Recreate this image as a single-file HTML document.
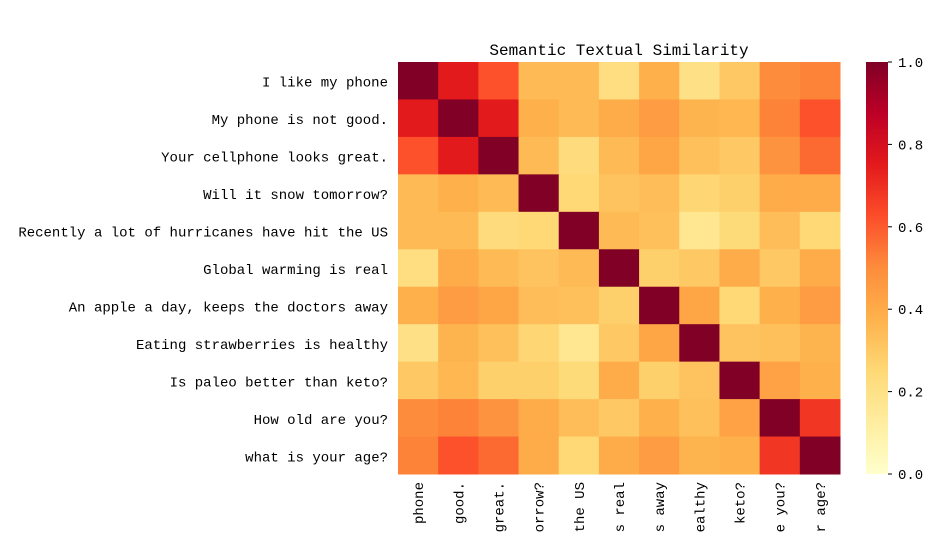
<!DOCTYPE html>
<html><head><meta charset="utf-8"><style>
html,body{margin:0;padding:0;background:#fff;overflow:hidden;width:950px;height:533px}
svg{display:block;overflow:hidden;font-family:"WenQuanYi Zen Hei","Liberation Mono",monospace}
</style></head><body>
<svg id="chart" width="950" height="533" viewBox="0 0 950 533" xmlns="http://www.w3.org/2000/svg">
<defs><clipPath id="frame"><rect x="0" y="0" width="950" height="533"/></clipPath></defs>
<text x="619" y="55" font-size="16" text-anchor="middle" fill="#000">Semantic Textual Similarity</text>
<g id="cells"></g>
<g id="ylabels"></g>
<g id="xlabels" clip-path="url(#frame)"></g>
<g id="cbar"></g>
</svg>
<script>
const labels = ["I like my phone","My phone is not good.","Your cellphone looks great.","Will it snow tomorrow?","Recently a lot of hurricanes have hit the US","Global warming is real","An apple a day, keeps the doctors away","Eating strawberries is healthy","Is paleo better than keto?","How old are you?","what is your age?"];
const row0 = [1,0.75,0.62,0.35,0.35,0.22,0.38,0.2,0.3,0.5,0.52];
const row1 = [0.75,1,0.75,0.38,0.35,0.4,0.45,0.37,0.36,0.52,0.62];
const row2 = [0.62,0.75,1,0.35,0.23,0.35,0.42,0.33,0.3,0.48,0.57];
const row3 = [0.35,0.38,0.35,1,0.25,0.32,0.34,0.26,0.28,0.4,0.4];
const row4 = [0.35,0.35,0.23,0.25,1,0.35,0.33,0.17,0.24,0.34,0.25];
const row5 = [0.22,0.4,0.35,0.32,0.35,1,0.28,0.3,0.4,0.3,0.4];
const row6 = [0.38,0.45,0.42,0.34,0.33,0.28,1,0.42,0.25,0.38,0.45];
const row7 = [0.2,0.37,0.33,0.26,0.17,0.3,0.42,1,0.32,0.33,0.37];
const row8 = [0.3,0.36,0.28,0.28,0.24,0.4,0.28,0.32,1,0.43,0.38];
const row9 = [0.5,0.52,0.48,0.4,0.34,0.3,0.38,0.33,0.43,1,0.68];
const row10 = [0.52,0.62,0.57,0.4,0.25,0.4,0.45,0.37,0.38,0.68,1];
const matrix = [row0,row1,row2,row3,row4,row5,row6,row7,row8,row9,row10];
const cbarTicks = [0,0.2,0.4,0.6,0.8,1.0];

const NS="http://www.w3.org/2000/svg";
const X0=398,X1=840,Y0=62,Y1=474;
const n=labels.length, cw=(X1-X0)/n, ch=(Y1-Y0)/n;
const stops=["#ffffcc","#ffeda0","#fed976","#feb24c","#fd8d3c","#fc4e2a","#e31a1c","#bd0026","#800026"];
function hex(h){return [1,3,5].map(i=>parseInt(h.substr(i,2),16));}
function color(v){v=Math.max(0,Math.min(1,v));const p=v*8,i=Math.min(7,Math.floor(p)),t=p-i;const a=hex(stops[i]),b=hex(stops[i+1]);return "rgb("+a.map((c,k)=>Math.round(c+(b[k]-c)*t)).join(",")+")";}
function mk(tag,attrs,parent){const e=document.createElementNS(NS,tag);for(const k in attrs)e.setAttribute(k,attrs[k]);parent.appendChild(e);return e;}
const xs=i=>X0+i*cw, ys=j=>Y0+j*ch;
const cells=document.getElementById("cells");
matrix.forEach((row,j)=>row.forEach((v,i)=>{
  const r=mk("rect",{x:xs(i),y:ys(j),width:cw+0.5,height:ch+0.5,fill:color(v)},cells);
  
  
}));
const yl=document.getElementById("ylabels"), xl=document.getElementById("xlabels");
labels.forEach((l,j)=>{
  const t=mk("text",{x:X0-10,y:ys(j)+ch/2+6,"text-anchor":"end","font-size":"14",fill:"#000"},yl);
  t.textContent=l;
  
  
  const cx=xs(j)+cw/2+5;
  const u=mk("text",{x:cx,y:482,"text-anchor":"end","font-size":"14",fill:"#000",transform:"rotate(-90 "+cx+" 482)"},xl);
  u.textContent=l;
  
  
});
const cb=document.getElementById("cbar");
const defs=mk("defs",{},cb);
const g=mk("linearGradient",{id:"grad",x1:"0",y1:"1",x2:"0",y2:"0"},defs);
stops.forEach((s,i)=>mk("stop",{offset:i/8,"stop-color":s},g));
const CX=866,CW=22;
const bar=mk("rect",{x:CX,y:Y0,width:CW,height:Y1-Y0,fill:"url(#grad)"},cb);


cbarTicks.forEach(v=>{
  const y=Y1-v*(Y1-Y0);
  mk("line",{x1:CX+CW,x2:CX+CW+4,y1:y,y2:y,stroke:"#000"},cb);
  const t=mk("text",{x:CX+CW+10,y:y+5,"font-size":"14",fill:"#000"},cb);
  t.textContent=v.toFixed(1);
  
  
});
</script>
</body></html>
